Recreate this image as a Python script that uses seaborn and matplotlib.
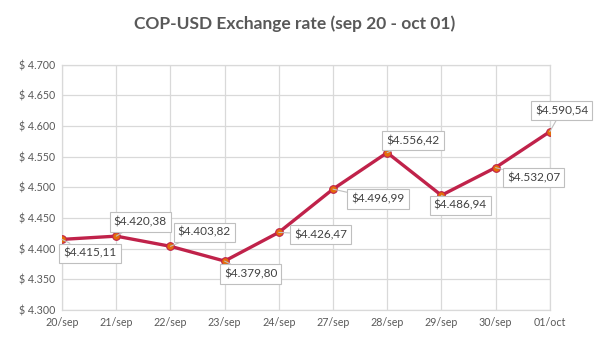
import matplotlib
matplotlib.use("Agg")
import matplotlib.pyplot as plt
import seaborn as sns
import pandas as pd

dates = ["20/sep", "21/sep", "22/sep", "23/sep", "24/sep",
         "27/sep", "28/sep", "29/sep", "30/sep", "01/oct"]
rates = [4415.11, 4420.38, 4403.82, 4379.80, 4426.47,
         4496.99, 4556.42, 4486.94, 4532.07, 4590.54]
y_ticks = [4300, 4350, 4400, 4450, 4500, 4550, 4600, 4650, 4700]
title = "COP-USD Exchange rate (sep 20 - oct 01)"

# label offsets in pixels (dx, dy) relative to each point
label_offsets = [(28, -14), (24, 14), (34, 14), (26, -13), (42, -2),
                 (45, -10), (26, 12), (19, -10), (38, -10), (12, 21)]

sns.set_theme(style="white")
plt.rcParams['font.family'] = ['Lato', 'DejaVu Sans']

df = pd.DataFrame({"date": dates, "rate": rates})

fig = plt.figure(figsize=(6.01, 3.38), dpi=100)
ax = fig.add_axes([0.1032, 0.0828, 0.8115, 0.7262])

sns.lineplot(data=df, x="date", y="rate", ax=ax, sort=False,
             color="#C0224A", linewidth=2.4, marker="o", markersize=5.5,
             markerfacecolor="#E46C0A", markeredgecolor="#C0224A",
             markeredgewidth=0.8, zorder=3)

def fmt_money(v, dec):
    s = f"{v:,.{dec}f}"
    s = s.replace(",", "X").replace(".", ",").replace("X", ".")
    return s

ax.set_xlim(0, len(dates) - 1)
ax.set_ylim(y_ticks[0], y_ticks[-1])
ax.set_yticks(y_ticks)
ax.set_yticklabels(["$ " + fmt_money(v, 0) for v in y_ticks])
ax.set_xticks(range(len(dates)))
ax.set_xticklabels(dates)
ax.set_xlabel("")
ax.set_ylabel("")

ax.grid(True, color="#D9D9D9", linewidth=0.9)
for sp in ax.spines.values():
    sp.set_color("#D9D9D9")
    sp.set_linewidth(0.9)
ax.tick_params(axis="both", colors="#595959", labelsize=7.7, length=0, pad=5)

for i, (v, (dx, dy)) in enumerate(zip(rates, label_offsets)):
    ax.annotate("$" + fmt_money(v, 2), xy=(i, v), xytext=(dx, dy),
                textcoords="offset pixels", ha="center", va="center",
                fontsize=8.5, color="#404040",
                bbox=dict(boxstyle="square,pad=0.35", fc="white",
                          ec="#BFBFBF", lw=0.8),
                arrowprops=dict(arrowstyle="-", color="#BFBFBF", lw=0.8,
                                shrinkA=0, shrinkB=0),
                zorder=4)

fig.suptitle(title, x=0.49, y=0.955, fontsize=12.5, fontweight="bold",
             color="#595959")

fig.savefig("out.png", dpi=100, facecolor="white")
